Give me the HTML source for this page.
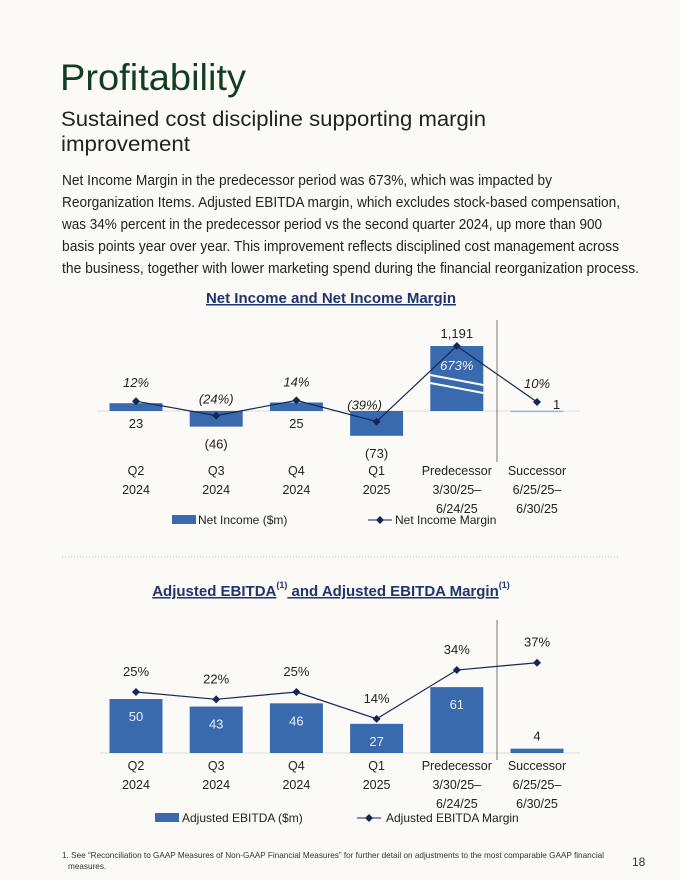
<!DOCTYPE html>
<html><head><meta charset="utf-8"><style>
html,body{margin:0;padding:0;background:#fcfaf6;}
svg{display:block;font-family:"Liberation Sans",sans-serif;}
</style></head><body>
<svg id="page" width="680" height="880" viewBox="0 0 680 880">
<rect width="680" height="880" fill="#fcfaf6"/>
<text x="60" y="90" font-size="37" fill="#133d23" textLength="186" lengthAdjust="spacingAndGlyphs">Profitability</text>
<text x="61" y="126" font-size="21" fill="#222" textLength="425" lengthAdjust="spacingAndGlyphs">Sustained cost discipline supporting margin</text>
<text x="61" y="151" font-size="21" fill="#222" textLength="129" lengthAdjust="spacingAndGlyphs">improvement</text>
<g font-size="14.3" fill="#222">
<text x="62" y="185" textLength="490" lengthAdjust="spacingAndGlyphs">Net Income Margin in the predecessor period was 673%, which was impacted by</text>
<text x="62" y="207" textLength="558" lengthAdjust="spacingAndGlyphs">Reorganization Items. Adjusted EBITDA margin, which excludes stock-based compensation,</text>
<text x="62" y="229" textLength="540" lengthAdjust="spacingAndGlyphs">was 34% percent in the predecessor period vs the second quarter 2024, up more than 900</text>
<text x="62" y="251" textLength="557" lengthAdjust="spacingAndGlyphs">basis points year over year. This improvement reflects disciplined cost management across</text>
<text x="62" y="273" textLength="577" lengthAdjust="spacingAndGlyphs">the business, together with lower marketing spend during the financial reorganization process.</text>
</g>
<text x="331" y="303" font-size="15" fill="#1d3570" text-anchor="middle" font-weight="bold" text-decoration="underline">Net Income and Net Income Margin</text>
<line x1="62" y1="557" x2="620" y2="557" stroke="#bbb" stroke-dasharray="1,2"/>
<text x="331" y="596" font-size="15" fill="#1d3570" text-anchor="middle" font-weight="bold"><tspan text-decoration="underline">Adjusted EBITDA</tspan><tspan font-size="9" dy="-8">(1)</tspan><tspan dy="8" text-decoration="underline"> and Adjusted EBITDA Margin</tspan><tspan font-size="9" dy="-8">(1)</tspan></text>
<g id="c1"></g>
<g id="c2"></g>
<text x="62" y="858" font-size="8.2" fill="#333">1. See “Reconciliation to GAAP Measures of Non-GAAP Financial Measures” for further detail on adjustments to the most comparable GAAP financial</text>
<text x="68" y="869" font-size="8.2" fill="#333">measures.</text>
<text x="632" y="866" font-size="12" fill="#333">18</text>
</svg>
<script>
const categories1=["Q2|2024","Q3|2024","Q4|2024","Q1|2025","Predecessor|3/30/25–|6/24/25","Successor|6/25/25–|6/30/25"];
const netIncome=[23,-46,25,-73,1191,1];
const netIncomeLabels=["23","(46)","25","(73)","1,191","1"];
const netMargin=[12,-24,14,-39,673,10];
const netMarginLabels=["12%","(24%)","14%","(39%)","673%","10%"];
const ebitda=[50,43,46,27,61,4];
const ebitdaMargin=[25,22,25,14,34,37];
const ebitdaMarginLabels=["25%","22%","25%","14%","34%","37%"];

const NS="http://www.w3.org/2000/svg";
function mk(p,t,a,txt){const e=document.createElementNS(NS,t);for(const k in a)e.setAttribute(k,a[k]);if(txt!=null)e.textContent=txt;p.appendChild(e);return e;}
const BLUE="#3a6aae",NAVY="#14275a";
const xc=i=>136+i*80.2;
function catLabels(g,y0){categories1.forEach((c,i)=>{c.split("|").forEach((s,j)=>{const t=mk(g,"text",{x:xc(i),y:y0+j*19,"font-size":12.5,fill:"#222","text-anchor":"middle"},s);

});});}

// Chart 1
(function(){
const g=document.getElementById("c1");
const zero=411, BW=53, CAP=65;
const yb=v=>zero-Math.max(-CAP,Math.min(CAP,v*0.34));
const ym=v=>v>200?346:406-v*0.4;
mk(g,"line",{x1:97,y1:zero,x2:580,y2:zero,stroke:"#ddd"});
mk(g,"line",{x1:497,y1:320,x2:497,y2:462,stroke:"#555","stroke-width":0.8});
netIncome.forEach((v,i)=>{const y=yb(v);const r=mk(g,"rect",{x:xc(i)-BW/2,y:Math.min(y,zero),width:BW,height:Math.max(Math.abs(zero-y),1.5),fill:i==5?"#9fb3d6":BLUE});


let ly=v>=0?zero+17:y+22,lx=xc(i),anc="middle";
if(v>1000){ly=y-8;} if(i==5){lx=xc(i)+16;ly=zero-2;anc="start";}
const t=mk(g,"text",{x:lx,y:ly,"font-size":13,fill:"#222","text-anchor":anc},netIncomeLabels[i]);

});
const bi=4;[380,388].forEach(yy=>mk(g,"line",{x1:xc(bi)-BW/2,y1:yy-5,x2:xc(bi)+BW/2,y2:yy+5,stroke:"#fff","stroke-width":2}));
const pts=netMargin.map((v,i)=>[xc(i),ym(v)]);
const pl=mk(g,"polyline",{points:pts.map(p=>p.join(",")).join(" "),fill:"none",stroke:NAVY,"stroke-width":1.2});


pts.forEach((p,i)=>{const d=mk(g,"path",{d:`M${p[0]},${p[1]-4}l4,4l-4,4l-4,-4z`,fill:NAVY});


let ly=p[1]-14;if(i==4){ly=370;}
if(i==1||i==3)ly=p[1]-12;
const t=mk(g,"text",{x:p[0]+(i==3?-12:0),y:ly,"font-size":13,"font-style":"italic",fill:i==4?"#e8eef8":"#222","text-anchor":"middle"},netMarginLabels[i]);

});
catLabels(g,475);
const lr=mk(g,"rect",{x:172,y:515,width:24,height:9,fill:BLUE});


mk(g,"text",{x:198,y:524,"font-size":12,fill:"#222"},"Net Income ($m)");
mk(g,"line",{x1:368,y1:520,x2:392,y2:520,stroke:NAVY});
mk(g,"path",{d:"M380,516l4,4l-4,4l-4,-4z",fill:NAVY});
mk(g,"text",{x:395,y:524,"font-size":12,fill:"#222"},"Net Income Margin");
})();

// Chart 2
(function(){
const g=document.getElementById("c2");
const base=753,BW=53;
const yb=v=>base-v*1.08, ym=v=>base-v*2.44;
mk(g,"line",{x1:100,y1:base,x2:580,y2:base,stroke:"#ddd"});
mk(g,"line",{x1:497,y1:620,x2:497,y2:760,stroke:"#555","stroke-width":0.8});
ebitda.forEach((v,i)=>{const y=yb(v);const r=mk(g,"rect",{x:xc(i)-BW/2,y:y,width:BW,height:base-y,fill:BLUE});


const inside=v>10;
const t=mk(g,"text",{x:xc(i),y:inside?y+22:y-8,"font-size":13,fill:inside?"#e8eef8":"#222","text-anchor":"middle"},String(v));

});
const pts=ebitdaMargin.map((v,i)=>[xc(i),ym(v)]);
const pl=mk(g,"polyline",{points:pts.map(p=>p.join(",")).join(" "),fill:"none",stroke:NAVY,"stroke-width":1.2});


pts.forEach((p,i)=>{const d=mk(g,"path",{d:`M${p[0]},${p[1]-4}l4,4l-4,4l-4,-4z`,fill:NAVY});


const t=mk(g,"text",{x:p[0],y:p[1]-16,"font-size":13,fill:"#222","text-anchor":"middle"},ebitdaMarginLabels[i]);

});
catLabels(g,770);
const lr=mk(g,"rect",{x:155,y:813,width:24,height:9,fill:BLUE});


mk(g,"text",{x:182,y:822,"font-size":12,fill:"#222"},"Adjusted EBITDA ($m)");
mk(g,"line",{x1:357,y1:818,x2:381,y2:818,stroke:NAVY});
mk(g,"path",{d:"M369,814l4,4l-4,4l-4,-4z",fill:NAVY});
mk(g,"text",{x:386,y:822,"font-size":12,fill:"#222"},"Adjusted EBITDA Margin");
})();
</script>
</body></html>
